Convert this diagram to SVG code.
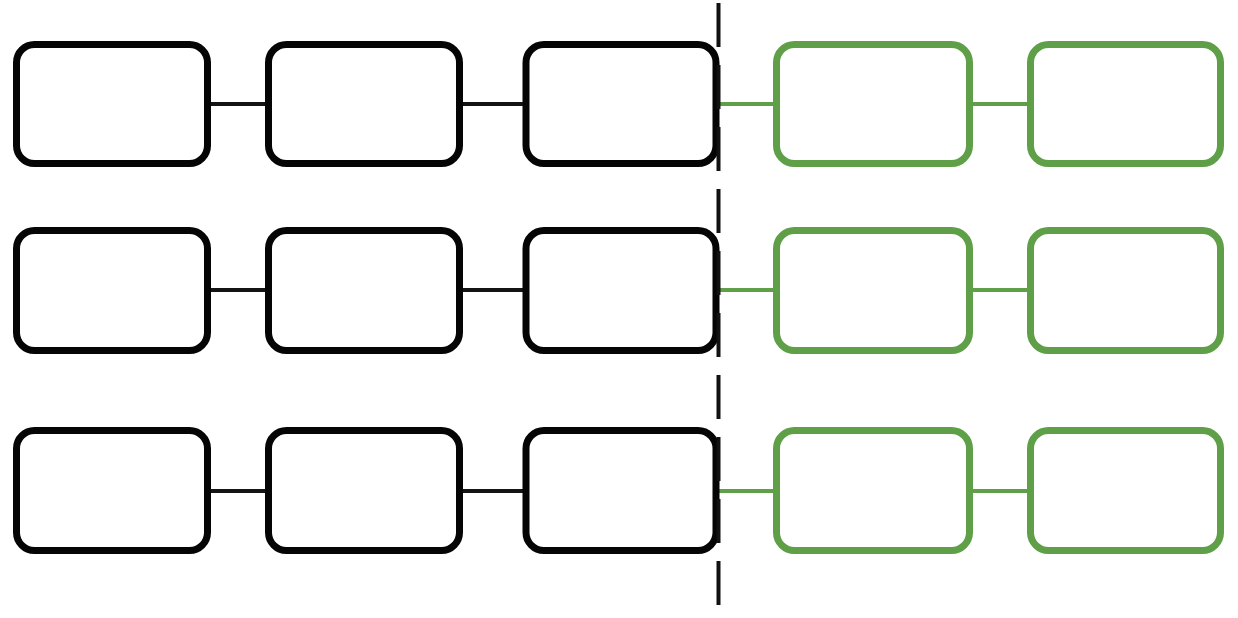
<svg xmlns="http://www.w3.org/2000/svg" width="1238" height="618" viewBox="0 0 1238 618">
  <style>
    .bk { fill: #ffffff; stroke: #050505; stroke-width: 7; }
    .gr { fill: #ffffff; stroke: #5f9f48; stroke-width: 7; }
    .ck { stroke: #141414; stroke-width: 4; fill: none; }
    .cg { stroke: #5f9f48; stroke-width: 4; fill: none; }
    .div { stroke: #111111; stroke-width: 4; stroke-dasharray: 44 18; fill: none; }
  </style>
  <rect width="1238" height="618" fill="#ffffff"/>
  <g id="connectors">
    <line class="ck" x1="210" y1="104" x2="266" y2="104"/>
    <line class="ck" x1="462" y1="104" x2="524" y2="104"/>
    <line class="cg" x1="718" y1="104" x2="774" y2="104"/>
    <line class="cg" x1="972" y1="104" x2="1028" y2="104"/>
    <line class="ck" x1="210" y1="290" x2="266" y2="290"/>
    <line class="ck" x1="462" y1="290" x2="524" y2="290"/>
    <line class="cg" x1="718" y1="290" x2="774" y2="290"/>
    <line class="cg" x1="972" y1="290" x2="1028" y2="290"/>
    <line class="ck" x1="210" y1="491" x2="266" y2="491"/>
    <line class="ck" x1="462" y1="491" x2="524" y2="491"/>
    <line class="cg" x1="718" y1="491" x2="774" y2="491"/>
    <line class="cg" x1="972" y1="491" x2="1028" y2="491"/>
  </g>
  <g id="r1n1"><rect class="bk" x="16.5" y="44.5" width="191" height="119" rx="18"/></g>
  <g id="r1n2"><rect class="bk" x="268.5" y="44.5" width="191" height="119" rx="18"/></g>
  <g id="r1n3"><rect class="bk" x="526" y="44.5" width="190" height="119" rx="18"/></g>
  <g id="r1n4"><rect class="gr" x="776.5" y="44.5" width="193" height="119" rx="18"/></g>
  <g id="r1n5"><rect class="gr" x="1030.5" y="44.5" width="190" height="119" rx="18"/></g>
  <g id="r2n1"><rect class="bk" x="16.5" y="230.5" width="191" height="120" rx="18"/></g>
  <g id="r2n2"><rect class="bk" x="268.5" y="230.5" width="191" height="120" rx="18"/></g>
  <g id="r2n3"><rect class="bk" x="526" y="230.5" width="190" height="120" rx="18"/></g>
  <g id="r2n4"><rect class="gr" x="776.5" y="230.5" width="193" height="120" rx="18"/></g>
  <g id="r2n5"><rect class="gr" x="1030.5" y="230.5" width="190" height="120" rx="18"/></g>
  <g id="r3n1"><rect class="bk" x="16.5" y="430.5" width="191" height="120" rx="18"/></g>
  <g id="r3n2"><rect class="bk" x="268.5" y="430.5" width="191" height="120" rx="18"/></g>
  <g id="r3n3"><rect class="bk" x="526" y="430.5" width="190" height="120" rx="18"/></g>
  <g id="r3n4"><rect class="gr" x="776.5" y="430.5" width="193" height="120" rx="18"/></g>
  <g id="r3n5"><rect class="gr" x="1030.5" y="430.5" width="190" height="120" rx="18"/></g>
  <g id="divider">
    <line class="div" x1="718.5" y1="3" x2="718.5" y2="608"/>
  </g>
</svg>
